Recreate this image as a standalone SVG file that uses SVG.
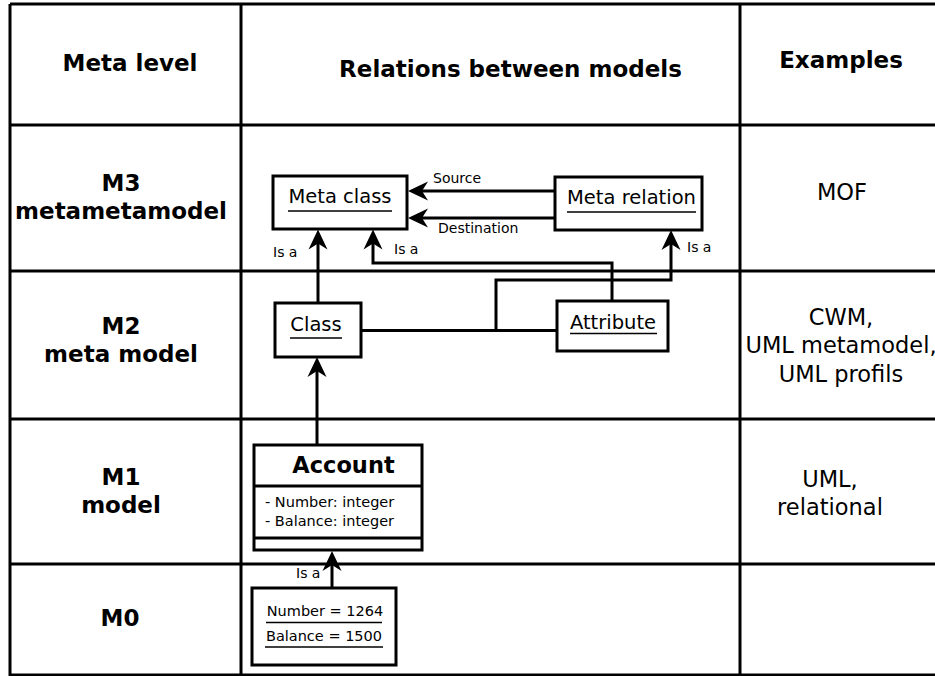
<svg xmlns="http://www.w3.org/2000/svg" width="935" height="676" viewBox="0 0 935 676">
  <style>
    .grid { stroke: #000; stroke-width: 3; fill: none; }
    .box { fill: #fff; stroke: #000; stroke-width: 3; }
    .wire { fill: none; stroke: #000; stroke-width: 3; }
    .uline { stroke: #000; stroke-width: 1.6; }
    text { font-family: "DejaVu Sans", "Liberation Sans", sans-serif; fill: #000; }
    .head { font-size: 23px; font-weight: bold; text-anchor: middle; }
    .level { font-size: 23px; font-weight: bold; text-anchor: middle; }
    .example { font-size: 22.5px; text-anchor: middle; }
    .name { font-size: 19.5px; text-anchor: middle; }
    .small { font-size: 14.5px; }
    .lbl { font-size: 14px; }
  </style>
  <defs>
    <marker id="arrow" markerUnits="userSpaceOnUse" viewBox="-22 -12 24 24" markerWidth="24" markerHeight="24" refX="-8" refY="0" orient="auto" overflow="visible">
      <path d="M0,0 L-20,-9.5 L-14,0 L-20,9.5 Z" fill="#000"/>
    </marker>
  </defs>

  <rect width="935" height="676" fill="#fff"/>

  <!-- table grid -->
  <g id="table">
    <path class="grid" d="M10,4 H940 M10,125 H940 M10,271 H940 M10,419 H940 M10,564 H940 M10,675 H940"/>
    <path class="grid" d="M10,4 V676 M241,4 V676 M740,4 V676"/>
  </g>

  <!-- column headers -->
  <g id="headers">
    <text class="head" x="130" y="71">Meta level</text>
    <text class="head" x="510.5" y="77">Relations between models</text>
    <text class="head" x="841" y="68">Examples</text>
  </g>

  <!-- meta levels -->
  <g id="levels">
    <text class="level" x="121" y="191">M3</text>
    <text class="level" x="121" y="219">metametamodel</text>
    <text class="level" x="121" y="334">M2</text>
    <text class="level" x="121" y="362">meta model</text>
    <text class="level" x="121" y="485">M1</text>
    <text class="level" x="121" y="513">model</text>
    <text class="level" x="120" y="626">M0</text>
  </g>

  <!-- examples -->
  <g id="examples">
    <text class="example" x="842" y="200">MOF</text>
    <text class="example" x="841" y="325">CWM,</text>
    <text class="example" x="841" y="353">UML metamodel,</text>
    <text class="example" x="841" y="381.5">UML profils</text>
    <text class="example" x="830" y="486.5">UML,</text>
    <text class="example" x="830" y="515">relational</text>
  </g>

  <!-- connectors -->
  <g id="connectors">
    <path class="wire" d="M555,191 H416" marker-end="url(#arrow)"/>
    <path class="wire" d="M555,218 H416" marker-end="url(#arrow)"/>
    <path class="wire" d="M318,303 V237.5" marker-end="url(#arrow)"/>
    <path class="wire" d="M612,301 V263 H373 V237.5" marker-end="url(#arrow)"/>
    <path class="wire" d="M496,330.5 V280 H671 V238" marker-end="url(#arrow)"/>
    <path class="wire" d="M361,330.5 H557"/>
    <path class="wire" d="M317,445 V365" marker-end="url(#arrow)"/>
    <path class="wire" d="M332,588 V559" marker-end="url(#arrow)"/>
    <text class="lbl" x="433" y="183">Source</text>
    <text class="lbl" x="438" y="233">Destination</text>
    <text class="lbl" x="273" y="257">Is a</text>
    <text class="lbl" x="394" y="254">Is a</text>
    <text class="lbl" x="687" y="252">Is a</text>
    <text class="lbl" x="296" y="578">Is a</text>
  </g>

  <!-- M3 nodes -->
  <g id="meta-class">
    <rect class="box" x="273" y="176" width="134" height="53"/>
    <text class="name" x="340" y="203">Meta class</text>
    <line class="uline" x1="288" y1="211" x2="392" y2="211"/>
  </g>
  <g id="meta-relation">
    <rect class="box" x="555" y="177" width="147" height="53"/>
    <text class="name" x="631.5" y="204">Meta relation</text>
    <line class="uline" x1="567" y1="212" x2="696" y2="212"/>
  </g>

  <!-- M2 nodes -->
  <g id="class">
    <rect class="box" x="275" y="303" width="86" height="54"/>
    <text class="name" x="316" y="331">Class</text>
    <line class="uline" x1="290" y1="338" x2="342" y2="338"/>
  </g>
  <g id="attribute">
    <rect class="box" x="557" y="301" width="111" height="50"/>
    <text class="name" x="613" y="328.5">Attribute</text>
    <line class="uline" x1="570" y1="333.5" x2="657" y2="333.5"/>
  </g>

  <!-- M1 node -->
  <g id="account">
    <rect class="box" x="254" y="445" width="168" height="105"/>
    <line class="grid" x1="254" y1="486" x2="422" y2="486"/>
    <line class="grid" x1="254" y1="538" x2="422" y2="538"/>
    <text x="343.5" y="472.5" font-size="22.5" font-weight="bold" text-anchor="middle">Account</text>
    <text class="small" x="265" y="507">- Number: integer</text>
    <text class="small" x="265" y="526">- Balance: integer</text>
  </g>

  <!-- M0 node -->
  <g id="account-instance">
    <rect class="box" x="252" y="588" width="144" height="77"/>
    <text class="small" x="325" y="616" text-anchor="middle">Number = 1264</text>
    <line class="uline" x1="266" y1="622.5" x2="382" y2="622.5"/>
    <text class="small" x="324" y="640.5" text-anchor="middle">Balance = 1500</text>
    <line class="uline" x1="265" y1="647" x2="383" y2="647"/>
  </g>
</svg>
